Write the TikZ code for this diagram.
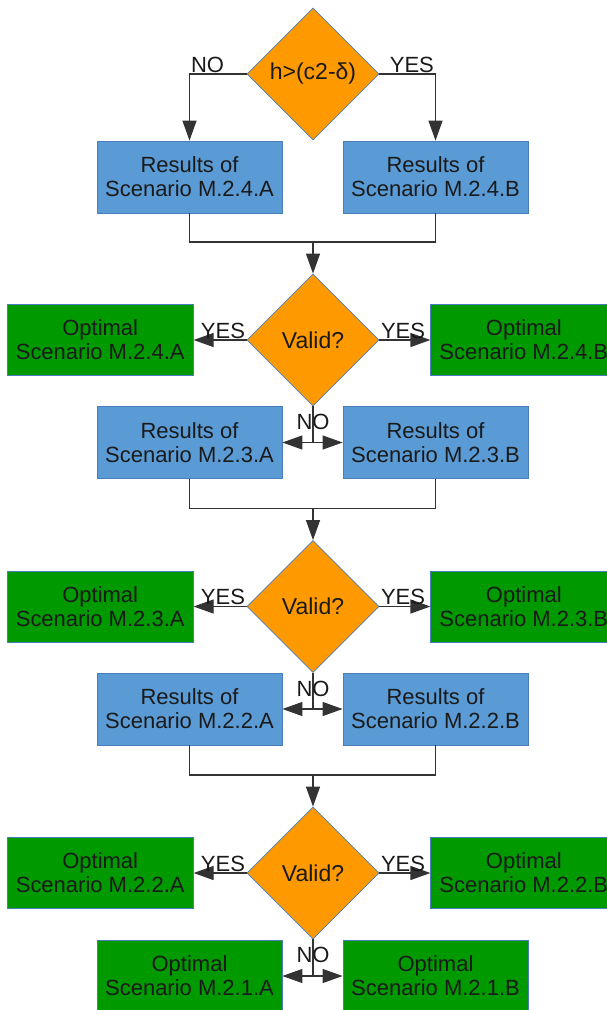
\documentclass[tikz,border=0pt]{standalone}
\usepackage{fontspec}
\setmainfont{Liberation Sans}
\usepackage{tikz}
\usetikzlibrary{
    positioning,      % For placing the side boxes next to the tests
    shapes.geometric, % For the diamond tests
    arrows.meta       % For the filled arrow tips
}
\definecolor{FlowOrange}{HTML}{FF9900}
\definecolor{FlowBlue}{HTML}{5B9BD5}
\definecolor{FlowGreen}{HTML}{009900}
\definecolor{FlowBorder}{HTML}{4A7EBB}
\definecolor{FlowText}{HTML}{1A1A1A}
\tikzset{
    % A shape for the tests
    decision_node/.style={
        diamond, draw=FlowBorder, fill=FlowOrange, line width=0.8pt,
        minimum width=132pt, minimum height=132pt, inner sep=0pt,
        align=center, text=FlowText, font=\fontsize{23}{26}\selectfont
    },
    % A shape for the results of a scenario
    results_node/.style={
        rectangle, draw=FlowBorder, fill=FlowBlue, line width=0.8pt,
        minimum width=185pt, minimum height=72pt, inner sep=0pt,
        align=center, text=FlowText
    },
    % A shape for the optimal scenario
    optimal_node/.style={
        rectangle, draw=FlowBorder, fill=FlowGreen, line width=0.8pt,
        minimum width=186pt, minimum height=71pt, inner sep=0pt,
        align=center, text=FlowText
    },
    % Labels on the connectors
    answer_label/.style={inner sep=1pt, text=FlowText},
    % Connector styles
    flow_line/.style={draw=black!80, line width=1.2pt},
    flow_arrow/.style={flow_line, -{Triangle[length=20pt, width=14pt]}}
}
\begin{document}
\begin{tikzpicture}[x=1pt, y=-1pt, font=\fontsize{22}{24}\selectfont]
\useasboundingbox (0,0) rectangle (607,1010);

% --- FIRST TEST ---
\node[decision_node] (height_test) at (313,74) {h>(c2-δ)};
\node[results_node] (results_24A) at (189.5,177) {Results of\\Scenario M.2.4.A};
\node[results_node] (results_24B) at (435.5,177) {Results of\\Scenario M.2.4.B};

\draw[flow_arrow] (height_test.west) -| (results_24A.north)
    node[answer_label, pos=0.5, above right] {NO};
\draw[flow_arrow] (height_test.east) -| (results_24B.north)
    node[answer_label, pos=0.5, above left] {YES};

% --- VALIDITY OF M.2.4 ---
\node[decision_node] (valid_24) at (313,340) {Valid?};
\node[optimal_node, left=53pt of valid_24] (optimal_24A) {Optimal\\Scenario M.2.4.A};
\node[optimal_node, right=51pt of valid_24] (optimal_24B) {Optimal\\Scenario M.2.4.B};
\node[results_node] (results_23A) at (189.5,442.5) {Results of\\Scenario M.2.3.A};
\node[results_node] (results_23B) at (435.5,442.5) {Results of\\Scenario M.2.3.B};

\coordinate (merge_24) at (313,242);
\draw[flow_line] (results_24A.south) |- (merge_24) -| (results_24B.south);
\draw[flow_arrow] (merge_24) -- (valid_24.north);
\draw[flow_arrow] (valid_24.west) -- (optimal_24A.east)
    node[answer_label, at start, above left] {YES};
\draw[flow_arrow] (valid_24.east) -- (optimal_24B.west)
    node[answer_label, at start, above right] {YES};
\coordinate (split_24) at (313,442.5);
\draw[flow_line] (valid_24.south) -- (split_24);
\draw[flow_arrow] (split_24) -- (results_23A.east);
\draw[flow_arrow] (split_24) -- (results_23B.west);
\node[answer_label] (no_24) at (313,422) {NO};

% --- VALIDITY OF M.2.3 ---
\node[decision_node] (valid_23) at (313,606.5) {Valid?};
\node[optimal_node, left=53pt of valid_23] (optimal_23A) {Optimal\\Scenario M.2.3.A};
\node[optimal_node, right=51pt of valid_23] (optimal_23B) {Optimal\\Scenario M.2.3.B};
\node[results_node] (results_22A) at (189.5,709) {Results of\\Scenario M.2.2.A};
\node[results_node] (results_22B) at (435.5,709) {Results of\\Scenario M.2.2.B};

\coordinate (merge_23) at (313,508.5);
\draw[flow_line] (results_23A.south) |- (merge_23) -| (results_23B.south);
\draw[flow_arrow] (merge_23) -- (valid_23.north);
\draw[flow_arrow] (valid_23.west) -- (optimal_23A.east)
    node[answer_label, at start, above left] {YES};
\draw[flow_arrow] (valid_23.east) -- (optimal_23B.west)
    node[answer_label, at start, above right] {YES};
\coordinate (split_23) at (313,709);
\draw[flow_line] (valid_23.south) -- (split_23);
\draw[flow_arrow] (split_23) -- (results_22A.east);
\draw[flow_arrow] (split_23) -- (results_22B.west);
\node[answer_label] (no_23) at (313,688.5) {NO};

% --- VALIDITY OF M.2.2 ---
\node[decision_node] (valid_22) at (313,873) {Valid?};
\node[optimal_node, left=53pt of valid_22] (optimal_22A) {Optimal\\Scenario M.2.2.A};
\node[optimal_node, right=51pt of valid_22] (optimal_22B) {Optimal\\Scenario M.2.2.B};
\node[optimal_node, minimum width=185pt, minimum height=72pt] (optimal_21A) at (189.5,976) {Optimal\\Scenario M.2.1.A};
\node[optimal_node, minimum width=185pt, minimum height=72pt] (optimal_21B) at (435.5,976) {Optimal\\Scenario M.2.1.B};

\coordinate (merge_22) at (313,775);
\draw[flow_line] (results_22A.south) |- (merge_22) -| (results_22B.south);
\draw[flow_arrow] (merge_22) -- (valid_22.north);
\draw[flow_arrow] (valid_22.west) -- (optimal_22A.east)
    node[answer_label, at start, above left] {YES};
\draw[flow_arrow] (valid_22.east) -- (optimal_22B.west)
    node[answer_label, at start, above right] {YES};
\coordinate (split_22) at (313,976);
\draw[flow_line] (valid_22.south) -- (split_22);
\draw[flow_arrow] (split_22) -- (optimal_21A.east);
\draw[flow_arrow] (split_22) -- (optimal_21B.west);
\node[answer_label] (no_22) at (313,955) {NO};

\end{tikzpicture}
\end{document}
